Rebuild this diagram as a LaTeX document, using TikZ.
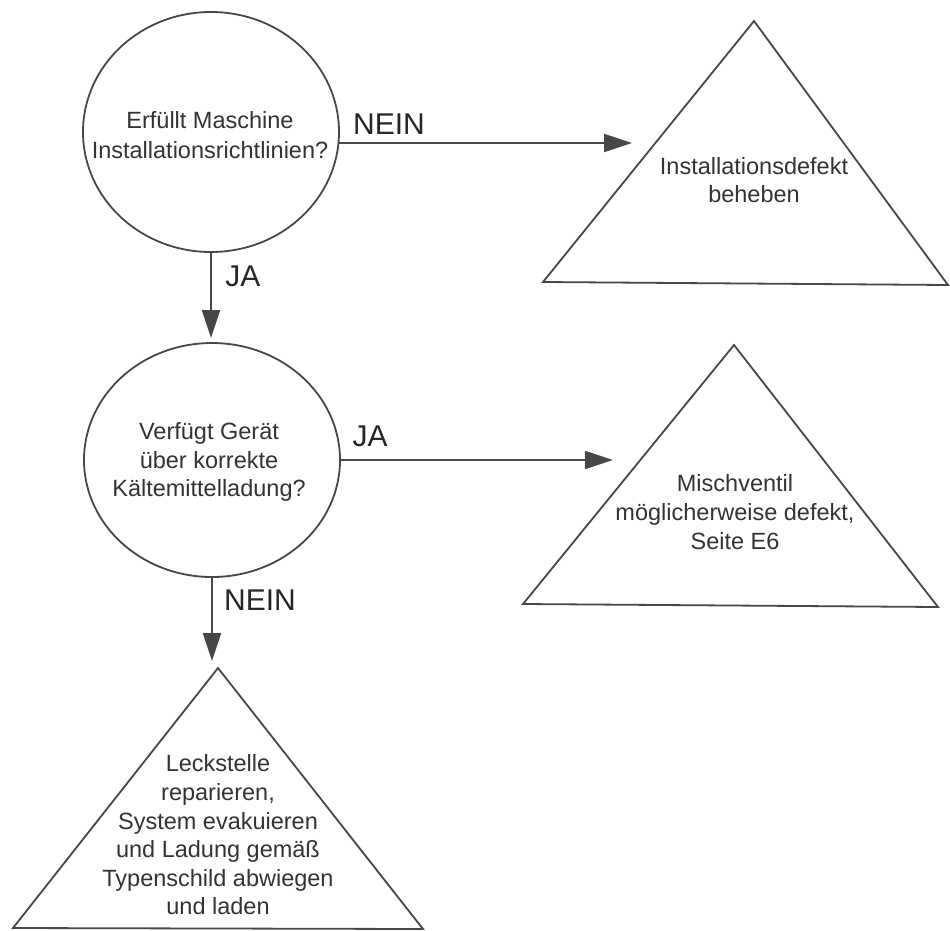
\documentclass[tikz,border=0pt]{standalone}
\usepackage{fontspec}
\setmainfont{Liberation Sans}
\usetikzlibrary{arrows.meta,shapes.geometric}
\definecolor{inkline}{HTML}{474747}
\definecolor{inktext}{HTML}{333333}
\begin{document}
\begin{tikzpicture}[x=1pt,y=-1pt,
  question/.style={ellipse,draw=inkline,line width=1.8pt,inner sep=0pt,outer sep=0pt},
  qtext/.style={align=center,text=inktext,inner sep=0pt,font=\fontsize{23.5}{30}\selectfont},
  outcome/.style={draw=inkline,line width=1.8pt,line join=miter},
  outtext/.style={align=center,text=inktext,font=\fontsize{23.5}{28.6}\selectfont},
  answer/.style={text=black!85,font=\fontsize{30}{30}\selectfont,inner sep=0pt},
  arr/.style={draw=inkline,line width=1.8pt,-{Triangle[length=28pt,width=18pt]}}]
\useasboundingbox (0,0) rectangle (950,930);
\fill[white] (0,0) rectangle (950,930);

% decision circles, with their questions set on top
\node[question,minimum width=256pt,minimum height=240pt] (q1) at (211,132) {};
\node[qtext] (q1text) at (210,135) {Erfüllt Maschine\\Installationsrichtlinien?};
\node[question,minimum width=256pt,minimum height=234pt] (q2) at (212,460) {};
\node[qtext,font=\fontsize{23.5}{28.5}\selectfont] (q2text) at (209,462)
  {Verfügt Gerät\\über korrekte\\Kältemittelladung?};

% outcome triangles
\draw[outcome] (754,21) -- (543,282) -- (948,285) -- cycle;
\draw[outcome] (734,345) -- (523,604) -- (938,607) -- cycle;
\draw[outcome] (218,668) -- (13,928) -- (423,929) -- cycle;

\node[outtext] (t1) at (754,180) {Installationsdefekt\\beheben};
\node[outtext] (t2) at (735,512) {Mischventil\\möglicherweise defekt,\\Seite E6};
\node[outtext] (t3) at (218,835) {Leckstelle\\reparieren,\\System evakuieren\\und Ladung gemäß\\Typenschild abwiegen\\und laden};

% arrow end points in front of the triangles
\coordinate (e1) at (632,143);
\coordinate (e2) at (613,460);
\coordinate (e3) at (213,661);

% connectors
\draw[arr] (q1.east |- e1) -- (e1);
\draw[arr,shorten >=5pt] (q1.south) -- (q1.south |- q2.north);
\draw[arr] (q2.east) -- (e2);
\draw[arr] (q2.south) -- (q2.south |- e3);

% branch labels
\node[answer] (l1) at (389,124) {NEIN};
\node[answer] (l2) at (243,276) {JA};
\node[answer] (l3) at (370,436) {JA};
\node[answer] (l4) at (260,600) {NEIN};
\end{tikzpicture}
\end{document}
